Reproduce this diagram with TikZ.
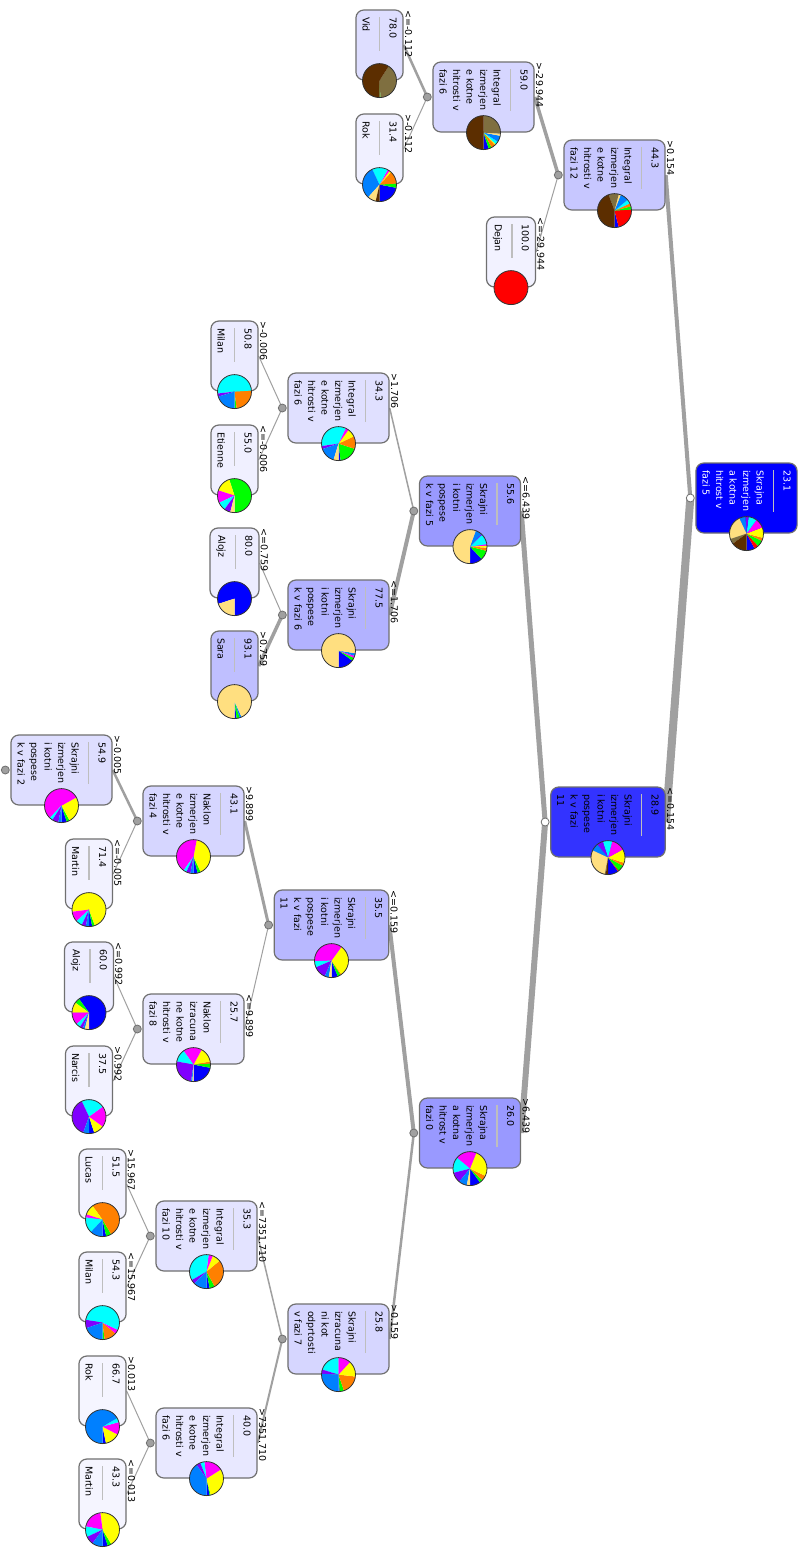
\documentclass[tikz,border=0pt]{standalone}
\usepackage{fontspec}
\setmainfont{DejaVu Sans}
\usetikzlibrary{backgrounds}

% class colours
\definecolor{alojz}{RGB}{0,0,255}
\definecolor{dejan}{RGB}{255,0,0}
\definecolor{etienne}{RGB}{0,255,0}
\definecolor{lucas}{RGB}{255,128,0}
\definecolor{martin}{RGB}{255,255,0}
\definecolor{magcls}{RGB}{255,0,255}
\definecolor{milan}{RGB}{0,255,255}
\definecolor{narcis}{RGB}{128,0,255}
\definecolor{rok}{RGB}{0,128,255}
\definecolor{sara}{RGB}{255,223,128}
\definecolor{olivecls}{RGB}{127,111,64}
\definecolor{vid}{RGB}{92,46,0}
\definecolor{boxgray}{RGB}{112,112,112}
\definecolor{sepgray}{RGB}{190,190,190}
\definecolor{edgegray}{RGB}{160,160,160}

\newcommand\treefont{\fontsize{9.5}{13.5}\selectfont}
\newcommand\sepline[1][42pt]{\textcolor{sepgray}{\rule[2.8pt]{#1}{1.3pt}}}
\newcommand\piechart[2]{%
	\begin{scope}[shift={(#1.east)}, yscale=-1]
		\foreach \p/\c [remember=\e as \s (initially 270), evaluate=\p as \e using \s+3.6*\p] in {#2}
			\fill[\c] (0,0) -- (\s:17) arc[start angle=\s, end angle=\e, radius=17] -- cycle;
		\draw[black!80, line width=0.8pt] (0,0) circle[radius=17];
	\end{scope}}

\tikzset{%
	tnode/.style={%
		rotate=-90,
		draw=boxgray,
		line width=1.2pt,
		rounded corners=8pt,
		fill=blue!#1,
		text width=56pt,
		align=left,
		inner xsep=7pt,
		inner ysep=6.5pt,
		font=\treefont
	},
	branch/.style={draw=edgegray, line width=#1}
}

\begin{document}
\begin{tikzpicture}[%
					x=1pt, y=-1pt,
					cond/.style={rotate=-90, anchor=south west, inner sep=1pt, font=\treefont},
					splitdot/.style={circle, draw=boxgray, fill=edgegray, line width=0.8pt, minimum size=8pt, inner sep=0pt}
				]
	\useasboundingbox (0,0) rectangle (803,1548);

	% root and first split
	\node[tnode=100, text=white] (n0) at (746.5,498) {23.1\\ \sepline\\ Skrajna\\ izmerjen\\ a kotna\\ hitrost v\\ fazi 5};
	\node[tnode=22] (n1) at (614.5,175) {44.3\\ \sepline\\ Integral\\ izmerjen\\ e kotne\\ hitrosti v\\ fazi 12};
	\node[tnode=80] (n2) at (608,822) {28.9\\ \sepline\\ Skrajni\\ izmerjen\\ i kotni\\ pospese\\ k v fazi\\ 11};

	% upper branch
	\node[tnode=16] (n3) at (483.5,97) {59.0\\ \sepline\\ Integral\\ izmerjen\\ e kotne\\ hitrosti v\\ fazi 6};
	\node[tnode=5] (n4) at (511,252) {100.0\\ \sepline[34pt]\\ Dejan};
	\node[tnode=13] (n5) at (379.5,45) {78.0\\ \sepline[34pt]\\ Vid};
	\node[tnode=6] (n6) at (379.5,149) {31.4\\ \sepline[34pt]\\ Rok};

	% middle branch
	\node[tnode=40] (n7) at (470,511) {55.6\\ \sepline\\ Skrajni\\ izmerjen\\ i kotni\\ pospese\\ k v fazi 5};
	\node[tnode=12] (n9) at (338.5,408) {34.3\\ \sepline\\ Integral\\ izmerjen\\ e kotne\\ hitrosti v\\ fazi 6};
	\node[tnode=30] (n10) at (338.5,615) {77.5\\ \sepline\\ Skrajni\\ izmerjen\\ i kotni\\ pospese\\ k v fazi 6};
	\node[tnode=8] (n11) at (234.5,356) {50.8\\ \sepline[34pt]\\ Milan};
	\node[tnode=6] (n12) at (234.5,460) {55.0\\ \sepline[34pt]\\ Etienne};
	\node[tnode=7] (n13) at (234.5,563) {80.0\\ \sepline[34pt]\\ Alojz};
	\node[tnode=25] (n14) at (234.5,666) {93.1\\ \sepline[34pt]\\ Sara};

	% lower branch
	\node[tnode=40] (n8) at (470,1133) {26.0\\ \sepline\\ Skrajna\\ izmerjen\\ a kotna\\ hitrost v\\ fazi 0};
	\node[tnode=28] (n15) at (331.5,925) {35.5\\ \sepline\\ Skrajni\\ izmerjen\\ i kotni\\ pospese\\ k v fazi\\ 11};
	\node[tnode=16] (n16) at (338.5,1339) {25.8\\ \sepline\\ Skrajni\\ izracuna\\ ni kot\\ odprtosti\\ v fazi 7};
	\node[tnode=16] (n17) at (193.5,821) {43.1\\ \sepline\\ Naklon\\ izmerjen\\ e kotne\\ hitrosti v\\ fazi 4};
	\node[tnode=9] (n18) at (193.5,1029) {25.7\\ \sepline\\ Naklon\\ izracuna\\ ne kotne\\ hitrosti v\\ fazi 8};
	\node[tnode=13] (n19) at (61.5,770) {54.9\\ \sepline\\ Skrajni\\ izmerjen\\ i kotni\\ pospese\\ k v fazi 2};
	\node[tnode=5] (n20) at (89,874) {71.4\\ \sepline[34pt]\\ Martin};
	\node[tnode=7] (n21) at (89,977) {60.0\\ \sepline[34pt]\\ Alojz};
	\node[tnode=5] (n22) at (89,1081) {37.5\\ \sepline[34pt]\\ Narcis};
	\node[tnode=11] (n23) at (206.5,1236) {35.3\\ \sepline\\ Integral\\ izmerjen\\ e kotne\\ hitrosti v\\ fazi 10};
	\node[tnode=9] (n24) at (206.5,1443) {40.0\\ \sepline\\ Integral\\ izmerjen\\ e kotne\\ hitrosti v\\ fazi 6};
	\node[tnode=5] (n25) at (102.5,1184) {51.5\\ \sepline[34pt]\\ Lucas};
	\node[tnode=5] (n26) at (102.5,1287) {54.3\\ \sepline[34pt]\\ Milan};
	\node[tnode=4] (n27) at (102.5,1391) {66.7\\ \sepline[34pt]\\ Rok};
	\node[tnode=4] (n28) at (102.5,1494) {43.3\\ \sepline[34pt]\\ Martin};

	% pies
	\piechart{n0}{8/alojz, 4/dejan, 6/etienne, 3/lucas, 10/martin, 9/magcls, 8/milan, 3/narcis, 6/rok, 23.1/sara, 5/olivecls, 14.9/vid}
	\piechart{n1}{4/alojz, 22/dejan, 3/etienne, 3/lucas, 4/milan, 8/rok, 2/sara, 9.7/olivecls, 44.3/vid}
	\piechart{n2}{10/alojz, 1/dejan, 6/etienne, 3/lucas, 13/martin, 13/magcls, 9/milan, 6/narcis, 7/rok, 28.9/sara, 1/olivecls, 2.1/vid}
	\piechart{n3}{5/alojz, 3/etienne, 4/lucas, 1/martin, 3/milan, 6/rok, 2/sara, 26/olivecls, 50/vid}
	\piechart{n4}{100/dejan}
	\piechart{n5}{1/etienne, 40/olivecls, 59/vid}
	\piechart{n6}{22/alojz, 4/etienne, 12/lucas, 2/martin, 2/magcls, 15/milan, 31.4/rok, 8/sara, 3.6/vid}
	\piechart{n7}{12/alojz, 9/etienne, 3/lucas, 2/martin, 1.4/magcls, 10/milan, 1/narcis, 6/rok, 55.6/sara}
	\piechart{n9}{2/alojz, 18/etienne, 12/lucas, 8/martin, 3/magcls, 34.3/milan, 3/narcis, 15/rok, 4.7/sara}
	\piechart{n10}{15/alojz, 3/etienne, 2/magcls, 2.5/rok, 77.5/sara}
	\piechart{n11}{2/etienne, 24/lucas, 50.8/milan, 3/narcis, 20.2/rok}
	\piechart{n12}{55/etienne, 15/martin, 12/magcls, 8/milan, 6/narcis, 4/sara}
	\piechart{n13}{80/alojz, 20/sara}
	\piechart{n14}{2/alojz, 3/etienne, 1.9/rok, 93.1/sara}
	\piechart{n8}{10/alojz, 3/etienne, 5/lucas, 26/martin, 20/magcls, 15/milan, 10/narcis, 8/rok, 3/sara}
	\piechart{n15}{6/alojz, 3/etienne, 1/lucas, 30/martin, 35.5/magcls, 6/milan, 12/narcis, 4/rok, 2.5/sara}
	\piechart{n16}{1.2/alojz, 4/etienne, 18/lucas, 15/martin, 12/magcls, 20/milan, 4/narcis, 25.8/rok}
	\piechart{n17}{4/alojz, 3/etienne, 40/martin, 43.1/magcls, 3/milan, 4/narcis, 2.9/rok}
	\piechart{n18}{22/alojz, 4/etienne, 2/lucas, 14/martin, 18/magcls, 12/milan, 25.7/narcis, 1.3/rok, 1/sara}
	\piechart{n19}{5/alojz, 3/etienne, 25/martin, 54.9/magcls, 3.1/milan, 6/narcis, 3/rok}
	\piechart{n20}{3/alojz, 2.6/etienne, 71.4/martin, 10/magcls, 6/milan, 4/narcis, 3/rok}
	\piechart{n21}{60/alojz, 5/etienne, 10/martin, 12/magcls, 4/milan, 3/narcis, 2/rok, 4/sara}
	\piechart{n22}{5/alojz, 10/martin, 20/magcls, 22/milan, 37.5/narcis, 5.5/rok}
	\piechart{n23}{3/alojz, 5/etienne, 28/lucas, 8/martin, 4/magcls, 35.3/milan, 4/narcis, 12.7/rok}
	\piechart{n24}{3/alojz, 1/etienne, 30/martin, 18/magcls, 4/milan, 4/narcis, 40/rok}
	\piechart{n25}{3.5/alojz, 5/etienne, 51.5/lucas, 10/martin, 3/magcls, 15/milan, 12/rok}
	\piechart{n26}{2/etienne, 12/lucas, 4/magcls, 54.3/milan, 8/narcis, 19.7/rok}
	\piechart{n27}{3.3/alojz, 14/martin, 12/magcls, 4/milan, 66.7/rok}
	\piechart{n28}{5/alojz, 3.7/etienne, 43.3/martin, 20/magcls, 10/milan, 8/narcis, 10/rok}

	% split points
	\node[splitdot, fill=white] (d0) at ([xshift=-5pt]n0.south) {};
	\node[splitdot] (d1) at ([xshift=-5pt]n1.south) {};
	\node[splitdot, fill=white] (d2) at ([xshift=-5pt]n2.south) {};
	\node[splitdot] (d3) at ([xshift=-5pt]n3.south) {};
	\node[splitdot] (d7) at ([xshift=-5pt]n7.south) {};
	\node[splitdot] (d8) at ([xshift=-5pt]n8.south) {};
	\node[splitdot] (d9) at ([xshift=-5pt]n9.south) {};
	\node[splitdot] (d10) at ([xshift=-5pt]n10.south) {};
	\node[splitdot] (d15) at ([xshift=-5pt]n15.south) {};
	\node[splitdot] (d16) at ([xshift=-5pt]n16.south) {};
	\node[splitdot] (d17) at ([xshift=-5pt]n17.south) {};
	\node[splitdot] (d18) at ([xshift=-5pt]n18.south) {};
	\node[splitdot] (d19) at ([xshift=-5pt]n19.south) {};
	\node[splitdot] (d23) at ([xshift=-5pt]n23.south) {};
	\node[splitdot] (d24) at ([xshift=-5pt]n24.south) {};

	% split conditions
	\node[cond] (l1) at (n1.north west) {>0.154};
	\node[cond] (l2) at (n2.north west) {<=0.154};
	\node[cond] (l3) at (n3.north west) {>-29.944};
	\node[cond] (l4) at (n4.north west) {<=-29.944};
	\node[cond] (l5) at (n5.north west) {<=-0.112};
	\node[cond] (l6) at (n6.north west) {>-0.112};
	\node[cond] (l7) at (n7.north west) {<=6.439};
	\node[cond] (l8) at (n8.north west) {>6.439};
	\node[cond] (l9) at (n9.north west) {>1.706};
	\node[cond] (l10) at (n10.north west) {<=1.706};
	\node[cond] (l11) at (n11.north west) {>-0.006};
	\node[cond] (l12) at (n12.north west) {<=-0.006};
	\node[cond] (l13) at (n13.north west) {<=0.759};
	\node[cond] (l14) at (n14.north west) {>0.759};
	\node[cond] (l15) at (n15.north west) {<=0.159};
	\node[cond] (l16) at (n16.north west) {>0.159};
	\node[cond] (l17) at (n17.north west) {>9.899};
	\node[cond] (l18) at (n18.north west) {<=9.899};
	\node[cond] (l19) at (n19.north west) {>-0.005};
	\node[cond] (l20) at (n20.north west) {<=-0.005};
	\node[cond] (l21) at (n21.north west) {<=0.992};
	\node[cond] (l22) at (n22.north west) {>0.992};
	\node[cond] (l23) at (n23.north west) {<=7351.710};
	\node[cond] (l24) at (n24.north west) {>7351.710};
	\node[cond] (l25) at (n25.north west) {>15.967};
	\node[cond] (l26) at (n26.north west) {<=15.967};
	\node[cond] (l27) at (n27.north west) {>0.013};
	\node[cond] (l28) at (n28.north west) {<=0.013};

	% branches, behind everything
	\begin{scope}[on background layer]
		\fill[white] (0,0) rectangle (803,1548);
		\draw[branch=4pt] (d0.center) -- (n1.north);
		\draw[branch=8pt] (d0.center) -- (n2.north);
		\draw[branch=3.5pt] (d1.center) -- (n3.north);
		\draw[branch=1pt] (d1.center) -- (n4.north);
		\draw[branch=2.5pt] (d3.center) -- (n5.north);
		\draw[branch=1pt] (d3.center) -- (n6.north);
		\draw[branch=5pt] (d2.center) -- (n7.north);
		\draw[branch=6pt] (d2.center) -- (n8.north);
		\draw[branch=1.5pt] (d7.center) -- (n9.north);
		\draw[branch=4pt] (d7.center) -- (n10.north);
		\draw[branch=1pt] (d9.center) -- (n11.north);
		\draw[branch=1pt] (d9.center) -- (n12.north);
		\draw[branch=1pt] (d10.center) -- (n13.north);
		\draw[branch=3.5pt] (d10.center) -- (n14.north);
		\draw[branch=4pt] (d8.center) -- (n15.north);
		\draw[branch=2.5pt] (d8.center) -- (n16.north);
		\draw[branch=3pt] (d15.center) -- (n17.north);
		\draw[branch=1pt] (d15.center) -- (n18.north);
		\draw[branch=2.5pt] (d17.center) -- (n19.north);
		\draw[branch=1pt] (d17.center) -- (n20.north);
		\draw[branch=1pt] (d18.center) -- (n21.north);
		\draw[branch=1pt] (d18.center) -- (n22.north);
		\draw[branch=1.5pt] (d16.center) -- (n23.north);
		\draw[branch=2pt] (d16.center) -- (n24.north);
		\draw[branch=1pt] (d23.center) -- (n25.north);
		\draw[branch=1pt] (d23.center) -- (n26.north);
		\draw[branch=1pt] (d24.center) -- (n27.north);
		\draw[branch=1pt] (d24.center) -- (n28.north);
	\end{scope}
\end{tikzpicture}
\end{document}
